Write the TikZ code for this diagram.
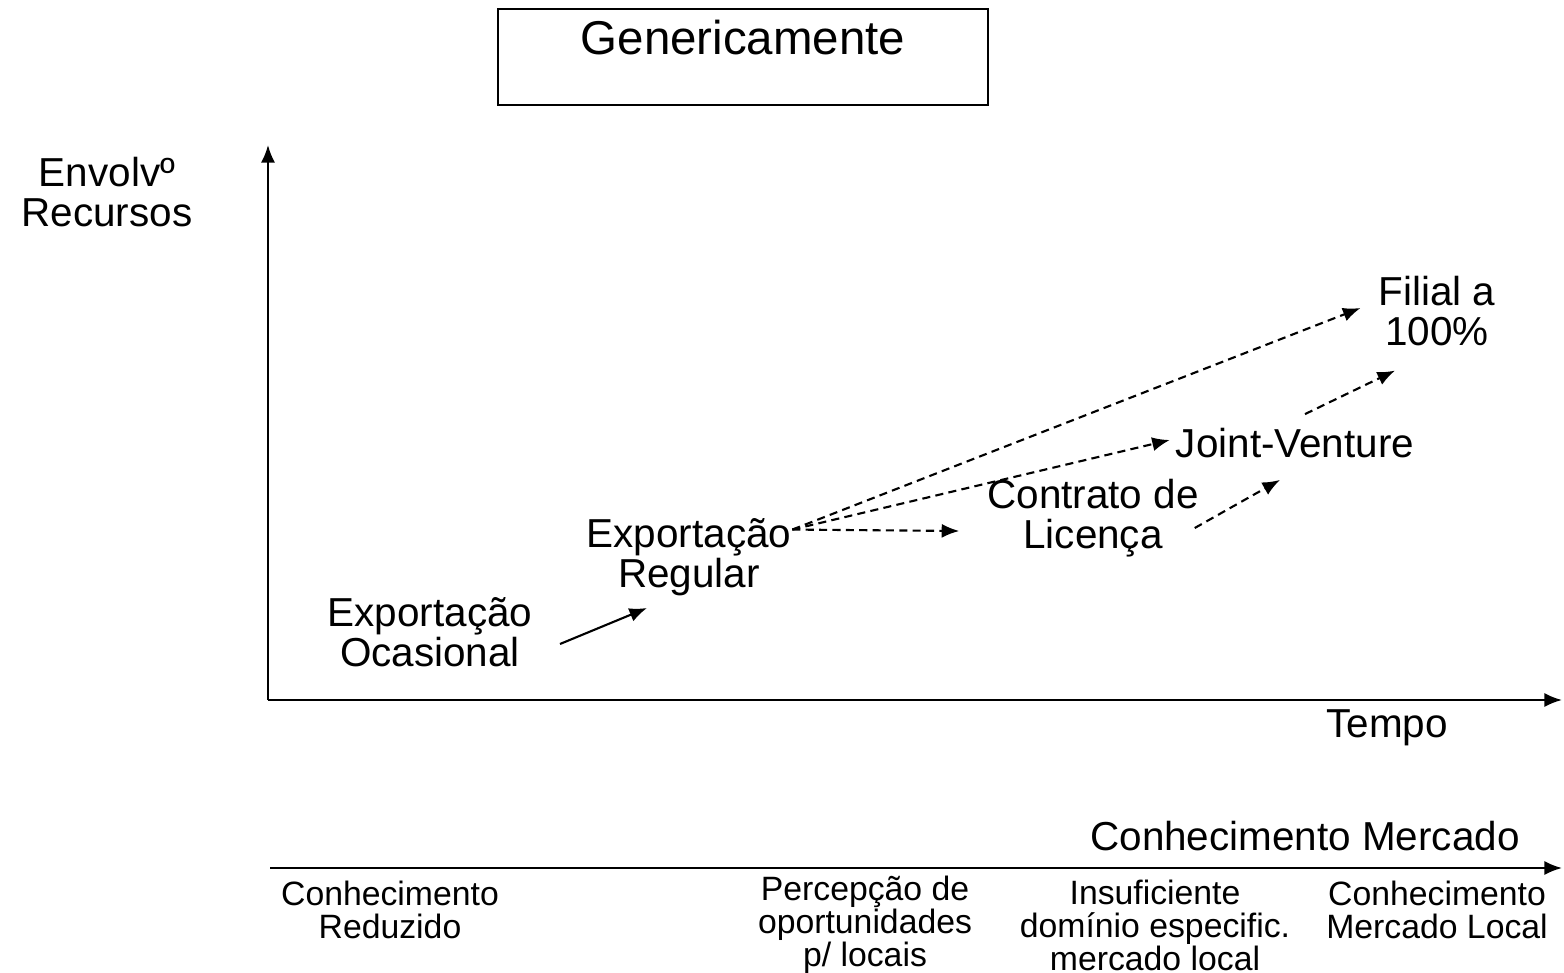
\documentclass[tikz,border=0pt]{standalone}
\usepackage{fontspec}
\setmainfont{Liberation Sans}
\usepackage{tikz}
\usetikzlibrary{arrows.meta}

\newcommand\tightlines{\lineskiplimit -6pt\relax}

\begin{document}
\begin{tikzpicture}[x=0.01cm,y=-0.01cm,->,>={Latex[length=5pt,width=4pt]},semithick,
  lbl/.style={align=center,inner sep=0pt,font=\fontsize{11.5}{11.2}\selectfont\tightlines},
  axlbl/.style={align=center,inner sep=0pt,font=\fontsize{11.5}{11.4}\selectfont\tightlines},
  know/.style={align=center,inner sep=0pt,font=\fontsize{9.6}{9.4}\selectfont\tightlines},
  dashline/.style={dash pattern=on 2.3pt off 1.5pt}]

\useasboundingbox (0,0) rectangle (1564,973);

\node[draw,-,inner sep=0pt,minimum width=4.9cm,text height=0.45cm,text depth=0.51cm,
  font=\fontsize{13.5}{16}\selectfont] (T) at (743,8) [anchor=north] {Genericamente};

% eixos
\coordinate (O)  at (268,700);
\coordinate (Y)  at (268,145);
\coordinate (X)  at (1562,700);
\coordinate (K0) at (270,868);
\coordinate (K1) at (1562,868);

\draw (O) -- (Y);
\draw (O) -- (X);
\draw (K0) -- (K1);

\node[axlbl] (ENV) at (107,192) {Envolvº\\Recursos};
\node[axlbl] (TMP) at (1387,728) {Tempo};
\node[axlbl] (CM)  at (1305,836) {Conhecimento Mercado};

% modos de entrada
\node[lbl] (OC)  at (430,632)  {Exportação\\Ocasional};
\node[lbl] (REG) at (689,557)  {Exportação\\Regular};
\node[lbl] (LIC) at (1093,518) {Contrato de\\Licença};
\node[lbl] (JV)  at (1295,443) {Joint-Venture};
\node[lbl] (FIL) at (1437,311) {Filial a\\100\%};

\path
	([shift={(130,12)}]OC.center) edge ([shift={(-42,51)}]REG.center);
\path[dashline]
	([shift={(0,12)}]REG.north east) edge ([shift={(-27,13)}]LIC.west)
	([shift={(0,12)}]REG.north east) edge ([shift={(-5,-3)}]JV.west)
	([shift={(0,12)}]REG.north east) edge ([shift={(-17,-3)}]FIL.west);
\path[dashline]
	([shift={(-5,10)}]LIC.east) edge ([shift={(-15,21)}]JV.south)
	([shift={(10,-13)}]JV.north) edge ([shift={(-42,24)}]FIL.south);

% conhecimento
\node[know] (K1L) at (390,910)  {Conhecimento\\Reduzido};
\node[know] (K2L) at (865,925)  {Percepção de\\oportunidades\\p/ locais};
\node[know] (K3L) at (1155,925) {Insuficiente\\domínio especific.\\mercado local};
\node[know] (K4L) at (1437,910) {Conhecimento\\Mercado Local};

\end{tikzpicture}
\end{document}
